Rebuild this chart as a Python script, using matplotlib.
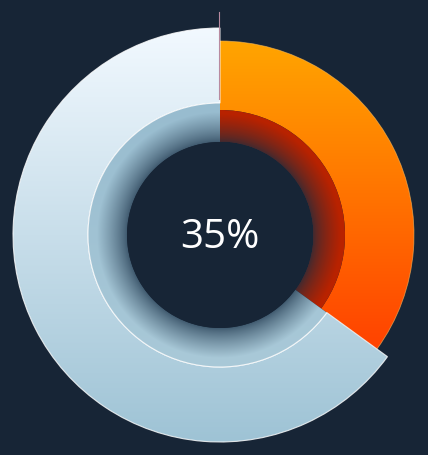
import numpy as np
import matplotlib
matplotlib.use("Agg")
import matplotlib.pyplot as plt
from matplotlib.patches import Wedge, Arc
from matplotlib.colors import to_rgb

# ---- data ----
categories = ["Completed", "Remaining"]
values = [35, 65]
center_label = "35%"

BG = "#172536"
W, H = 428, 456
fig = plt.figure(figsize=(W / 100, H / 100), dpi=100, facecolor=BG)
ax = fig.add_axes([0, 0, 1, 1])
ax.set_xlim(0, W)
ax.set_ylim(0, H)
ax.set_aspect("equal")
ax.axis("off")
ax.set_facecolor(BG)

cx, cy = 220, 220
total = sum(values)
frac = values[0] / total
split = 90 - 360 * frac  # clockwise from 12 o'clock

# pixel grid
ys, xs = np.mgrid[0:H, 0:W] + 0.5
rr = np.hypot(xs - cx, ys - cy)


def lerp(c1, c2, t):
    c1 = np.array(to_rgb(c1)); c2 = np.array(to_rgb(c2))
    t = np.clip(t, 0, 1)[..., None]
    return c1 * (1 - t) + c2 * t


def vertical(c_top, c_bot, y_top, y_bot):
    t = (y_top - ys) / (y_top - y_bot)
    return lerp(c_top, c_bot, t)


def draw(img, wedge, z):
    ax.add_patch(wedge)
    im = ax.imshow(img, extent=(0, W, 0, H), origin="lower", zorder=z,
                   interpolation="bilinear")
    im.set_clip_path(wedge)


R_out_light, R_out_or = 207, 194
R_mid_light, R_mid_red = 132, 125
R_in = 93

# outer orange
w1 = Wedge((cx, cy), R_out_or, split, 90, width=R_out_or - R_mid_red,
           facecolor="none", edgecolor="none")
img1 = vertical("#ffa500", "#ff4200", H - 42, H - 350)
draw(img1, w1, 2)
ax.add_patch(Arc((cx, cy), 2 * R_out_or, 2 * R_out_or, theta1=split, theta2=90,
                 color="#ffc060", lw=0.6, alpha=0.6, zorder=3))

# outer light
w2 = Wedge((cx, cy), R_out_light, 90, split + 360, width=R_out_light - R_mid_light,
           facecolor="none", edgecolor="none")
img2 = vertical("#f2f9ff", "#9ec3d5", H - 29, H - 443)
draw(img2, w2, 2)
ax.add_patch(Wedge((cx, cy), R_out_light, 90, split + 360, width=R_out_light - R_mid_light,
                   facecolor="none", edgecolor="white", lw=0.8, alpha=0.8, zorder=3))

# inner red
w3 = Wedge((cx, cy), R_mid_red, split, 90, width=R_mid_red - R_in,
           facecolor="none", edgecolor="none")
t3 = (rr - R_in) / (R_mid_red - R_in - 4)
img3 = lerp("#3a2a32", "#b82200", t3 ** 0.7)
draw(img3, w3, 4)

# inner light
w4 = Wedge((cx, cy), R_mid_light, 90, split + 360, width=R_mid_light - R_in,
           facecolor="none", edgecolor="none")
base4 = vertical("#98bccf", "#a9c9d8", H - 104, H - 368)
t4 = np.clip((rr - R_in) / 30.0, 0, 1) ** 0.8
dark = np.array(to_rgb("#3e586d"))
img4 = dark * (1 - t4[..., None]) + base4 * t4[..., None]
draw(img4, w4, 4)
ax.add_patch(Arc((cx, cy), 2 * R_mid_light, 2 * R_mid_light, theta1=90, theta2=split + 360,
                 color="white", lw=0.8, alpha=0.8, zorder=5))

# center hole
ax.add_patch(plt.Circle((cx, cy), R_in, facecolor=BG, edgecolor="none", zorder=6))

# small marker line at top
ax.plot([cx - 0.5, cx - 0.5], [H - 13, H - 100], color="#b88aa0", lw=0.8, zorder=7)

ax.text(cx, cy - 2, center_label, ha="center", va="center", color="white",
        fontsize=29, family=["Open Sans", "DejaVu Sans"], zorder=8)

fig.savefig("out.png", dpi=100, facecolor=BG)
